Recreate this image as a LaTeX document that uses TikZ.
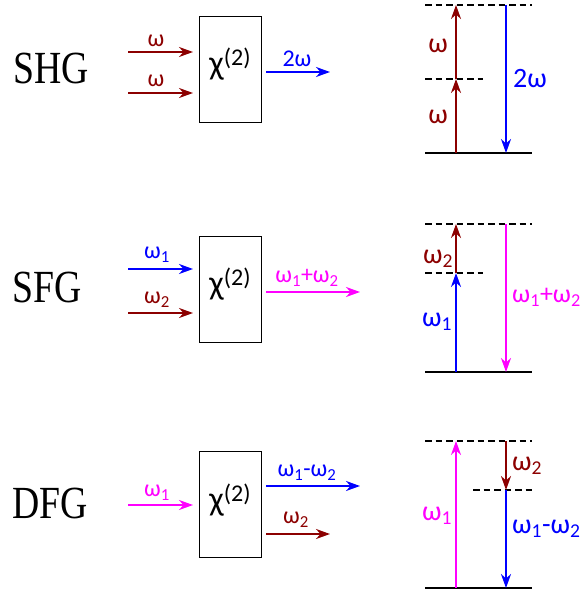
\documentclass[tikz,border=0pt]{standalone}
\usepackage{fontspec}
\setmainfont{Carlito}
\newfontfamily\titlefont{Liberation Serif}
\usetikzlibrary{arrows.meta}
\definecolor{dred}{RGB}{140,0,0}
\definecolor{mag}{RGB}{255,0,255}
\definecolor{pblue}{RGB}{0,0,255}
\newcommand{\chitwo}{χ\raisebox{9pt}{\fontsize{24}{24}\selectfont(2)}}
\begin{document}
\begin{tikzpicture}[x=1pt,y=-1pt,
  beam/.style={line width=2pt,-{Stealth[length=14pt,width=10pt,inset=4.5pt]}},
  lvl/.style={line width=2pt},
  dlvl/.style={line width=1.5pt,dash pattern=on 6.5pt off 4pt},
  lab/.style={font=\fontsize{24}{24}\selectfont,inner sep=0pt},
  elab/.style={font=\fontsize{28}{28}\selectfont,inner sep=0pt},
  chibox/.style={draw,line width=0.9pt,minimum width=62pt,minimum height=106pt,inner sep=0pt},
  chi/.style={font=\fontsize{34}{34}\selectfont,inner sep=0pt},
  ttl/.style={font=\fontsize{46}{46}\selectfont\titlefont,inner sep=0pt}]
\useasboundingbox (0,0) rectangle (581,594);

% ---------- SHG ----------
\node[ttl] (shg) at (51,68) {\scalebox{0.82}[1]{SHG}};
\node[chibox] (sbox) at (230,69) {};
\node[chi] (schi) at (230,64) {\chitwo};
\coordinate (sa1) at (128,52); \coordinate (sb1) at (193,52);
\coordinate (sa2) at (128,93); \coordinate (sb2) at (193,93);
\coordinate (sa3) at (266,72); \coordinate (sb3) at (330,72);
\draw[beam,dred] (sa1) -- (sb1);
\draw[beam,dred] (sa2) -- (sb2);
\draw[beam,pblue] (sa3) -- (sb3);
\node[lab,dred] (sl1) at (156,41) {ω};
\node[lab,dred] (sl2) at (156,81) {ω};
\node[lab,pblue] (sl3) at (297,59) {2ω};
% energy
\coordinate (sgL) at (425,153); \coordinate (sgR) at (532,153);
\coordinate (stL) at (425,5); \coordinate (stR) at (532,5);
\coordinate (smL) at (425,79); \coordinate (smR) at (483,79);
\coordinate (su0) at (456,153); \coordinate (su1) at (456,79); \coordinate (su2) at (456,5);
\coordinate (sd0) at (506,5); \coordinate (sd1) at (506,153);
\draw[lvl] (sgL) -- (sgR);
\draw[dlvl] (stL) -- (stR);
\draw[dlvl] (smL) -- (smR);
\draw[beam,dred] (su0) -- (su1);
\draw[beam,dred] (su1) -- (su2);
\draw[beam,pblue] (sd0) -- (sd1);
\node[elab,dred] (se1) at (438,46) {ω};
\node[elab,dred] (se2) at (438,117) {ω};
\node[elab,pblue,anchor=west] (se3) at (513,79) {2ω};

% ---------- SFG ----------
\node[ttl] (sfg) at (47,287) {\scalebox{0.82}[1]{SFG}};
\node[chibox] (fbox) at (230,289) {};
\node[chi] (fchi) at (230,284) {\chitwo};
\coordinate (fa1) at (128,269); \coordinate (fb1) at (193,269);
\coordinate (fa2) at (128,313); \coordinate (fb2) at (193,313);
\coordinate (fa3) at (266,292); \coordinate (fb3) at (360,292);
\draw[beam,pblue] (fa1) -- (fb1);
\draw[beam,dred] (fa2) -- (fb2);
\draw[beam,mag] (fa3) -- (fb3);
\node[lab,pblue] (fl1) at (157,255) {ω\textsubscript{1}};
\node[lab,dred] (fl2) at (157,300) {ω\textsubscript{2}};
\node[lab,mag] (fl3) at (307,278) {ω\textsubscript{1}+ω\textsubscript{2}};
% energy
\coordinate (fgL) at (425,372); \coordinate (fgR) at (532,372);
\coordinate (ftL) at (425,224); \coordinate (ftR) at (532,224);
\coordinate (fmL) at (425,273); \coordinate (fmR) at (483,273);
\coordinate (fu0) at (456,372); \coordinate (fu1) at (456,273); \coordinate (fu2) at (456,224);
\coordinate (fd0) at (506,224); \coordinate (fd1) at (506,372);
\draw[lvl] (fgL) -- (fgR);
\draw[dlvl] (ftL) -- (ftR);
\draw[dlvl] (fmL) -- (fmR);
\draw[beam,pblue] (fu0) -- (fu1);
\draw[beam,dred] (fu1) -- (fu2);
\draw[beam,mag] (fd0) -- (fd1);
\node[elab,pblue] (fe1) at (437,322) {ω\textsubscript{1}};
\node[elab,dred] (fe2) at (438,259) {ω\textsubscript{2}};
\node[elab,mag,anchor=west,font=\fontsize{26}{26}\selectfont] (fe3) at (512,297) {ω\textsubscript{1}+ω\textsubscript{2}};

% ---------- DFG ----------
\node[ttl] (dfg) at (50,503) {\scalebox{0.82}[1]{DFG}};
\node[chibox] (dbox) at (230,504.5) {};
\node[chi] (dchi) at (230,500) {\chitwo};
\coordinate (da1) at (128,505); \coordinate (db1) at (193,505);
\coordinate (da2) at (266,486); \coordinate (db2) at (360,486);
\coordinate (da3) at (266,534); \coordinate (db3) at (330,534);
\draw[beam,mag] (da1) -- (db1);
\draw[beam,pblue] (da2) -- (db2);
\draw[beam,dred] (da3) -- (db3);
\node[lab,mag] (dl1) at (157,493) {ω\textsubscript{1}};
\node[lab,pblue] (dl2) at (307,473) {ω\textsubscript{1}-ω\textsubscript{2}};
\node[lab,dred] (dl3) at (296,520) {ω\textsubscript{2}};
% energy
\coordinate (dgL) at (425,588); \coordinate (dgR) at (532,588);
\coordinate (dtL) at (425,441); \coordinate (dtR) at (532,441);
\coordinate (dmL) at (473,490); \coordinate (dmR) at (532,490);
\coordinate (du0) at (456,588); \coordinate (du1) at (456,441);
\coordinate (dd0) at (506,441); \coordinate (dd1) at (506,490); \coordinate (dd2) at (506,588);
\draw[lvl] (dgL) -- (dgR);
\draw[dlvl] (dtL) -- (dtR);
\draw[dlvl] (dmL) -- (dmR);
\draw[beam,mag] (du0) -- (du1);
\draw[beam,dred] (dd0) -- (dd1);
\draw[beam,pblue] (dd1) -- (dd2);
\node[elab,mag] (de1) at (437,516) {ω\textsubscript{1}};
\node[elab,dred,anchor=west] (de2) at (512,466) {ω\textsubscript{2}};
\node[elab,pblue,anchor=west] (de3) at (512,529) {ω\textsubscript{1}-ω\textsubscript{2}};
\end{tikzpicture}
\end{document}
